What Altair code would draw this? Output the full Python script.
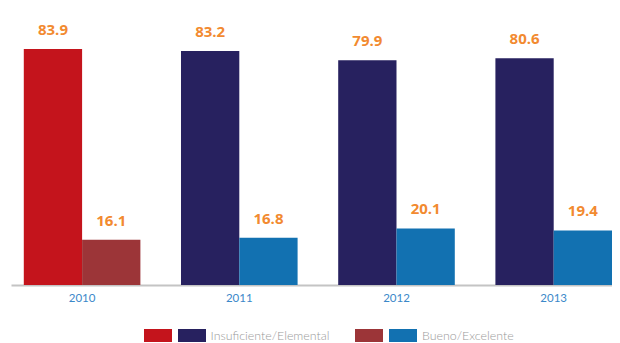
import altair as alt
import pandas as pd

# ---- data ----
years = ["2010", "2011", "2012", "2013"]
categories = ["Insuficiente/Elemental", "Bueno/Excelente"]
insuficiente = [83.9, 83.2, 79.9, 80.6]
bueno = [16.1, 16.8, 20.1, 19.4]

# colour palettes: 2010 in reds, later years in blues
palette_keys = ["red_ins", "red_bue", "blue_ins", "blue_bue"]
palette_colors = ["#C4141C", "#9C3538", "#27215F", "#1271B1"]

legend_labels = ["Insuficiente/Elemental", "Bueno/Excelente"]
legend_colors = [["#C4141C", "#27215F"], ["#9C3538", "#1271B1"]]

rows = []
for i, y in enumerate(years):
    fam = "red" if y == "2010" else "blue"
    rows.append({"year": y, "cat": categories[0], "value": insuficiente[i], "key": fam + "_ins"})
    rows.append({"year": y, "cat": categories[1], "value": bueno[i], "key": fam + "_bue"})
df = pd.DataFrame(rows)

x_enc = alt.X(
    "year:N",
    sort=years,
    scale=alt.Scale(paddingInner=0.2583, paddingOuter=0.0407, align=1),
    axis=alt.Axis(
        title=None, labelAngle=0, ticks=False, grid=False,
        domainColor="#c4c4c4", domainWidth=2,
        labelColor="#3B88C9", labelFont="Lato", labelFontSize=11.5, labelPadding=7,
    ),
)
xo_enc = alt.XOffset("cat:N", sort=categories, scale=alt.Scale(paddingInner=0, paddingOuter=0))
y_enc = alt.Y("value:Q", scale=alt.Scale(domain=[0, 98.5]), axis=None)

base = alt.Chart(df).encode(x=x_enc, xOffset=xo_enc, y=y_enc)

bars = base.mark_bar().encode(
    color=alt.Color("key:N", scale=alt.Scale(domain=palette_keys, range=palette_colors), legend=None)
)

labels = base.mark_text(
    font="Open Sans", fontWeight="bold", fontSize=15, color="#F28A30",
    baseline="middle", dy=-19,
).encode(text=alt.Text("value:Q", format=".1f"))

# custom legend (two swatches per entry), positioned below the plot
one = pd.DataFrame({"a": [0]})
legend_layers = []
swatch_x = [[133, 167], [344, 378]]
text_x = [199.5, 411]
for k in range(2):
    for j in range(2):
        x1 = swatch_x[k][j]
        legend_layers.append(
            alt.Chart(one).mark_rect(color=legend_colors[k][j]).encode(
                x=alt.value(x1), x2=alt.value(x1 + 28),
                y=alt.value(321), y2=alt.value(334),
            )
        )
    legend_layers.append(
        alt.Chart(one).mark_text(
            text=legend_labels[k], align="left", baseline="middle",
            font="Lato", fontWeight=300, fontSize=12.4, color="#9a9a9a",
        ).encode(x=alt.value(text_x[k]), y=alt.value(328))
    )

chart = alt.layer(bars, labels, *legend_layers).properties(
    width=601, height=277,
    padding={"left": 3, "top": 0, "right": 0, "bottom": 0},
).configure_view(stroke=None)

chart.save("out.html", embed_options={"renderer": "svg", "actions": False})
